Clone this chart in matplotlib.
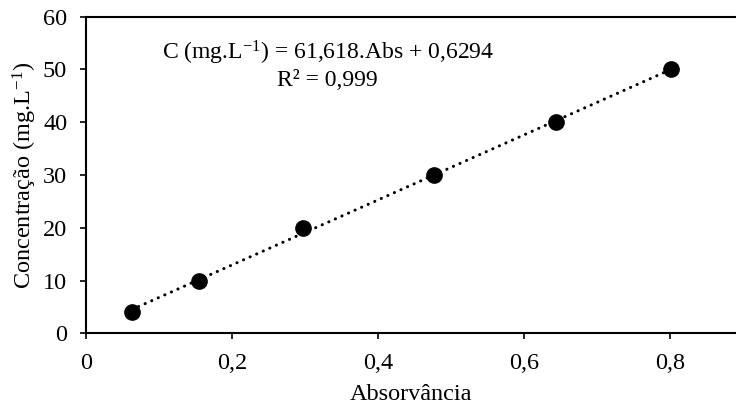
import matplotlib
matplotlib.use("Agg")
import matplotlib.pyplot as plt
import numpy as np

# Data
absorbance = [0.063, 0.155, 0.297, 0.477, 0.644, 0.801]
concentration = [4, 10, 20, 30, 40, 50]
slope = 61.618
intercept = 0.6294
x_ticks = [0, 0.2, 0.4, 0.6, 0.8]
x_tick_labels = ["0", "0,2", "0,4", "0,6", "0,8"]
y_ticks = [0, 10, 20, 30, 40, 50, 60]
equation_text = "C (mg.L$^{-1}$) = 61,618.Abs + 0,6294"
r2_text = "R² = 0,999"

plt.rcParams['font.family'] = ['Liberation Serif', 'DejaVu Serif']
plt.rcParams['mathtext.fontset'] = 'custom'
plt.rcParams['mathtext.rm'] = 'Liberation Serif'
plt.rcParams['mathtext.it'] = 'Liberation Serif'
plt.rcParams['mathtext.default'] = 'rm'

fig = plt.figure(figsize=(7.36, 4.09), dpi=100)
W, H = 736, 409
left, right, top, bottom = 86, 736, 16.7, 333.3
ax = fig.add_axes([left / W, 1 - bottom / H, (right - left) / W, (bottom - top) / H])

# trendline
xl = np.array([min(absorbance), max(absorbance)])
ax.plot(xl, slope * xl + intercept, color='black', linewidth=2.2,
        linestyle=(0, (0.05, 2.3)), dash_capstyle='round', zorder=2)
ax.plot(absorbance, concentration, 'o', color='black', markersize=11, zorder=3)

ax.set_xlim(0, 650 / 730)
ax.set_ylim(0, 60)
ax.set_xticks(x_ticks)
ax.set_xticklabels(x_tick_labels)
ax.set_yticks(y_ticks)
ax.spines['right'].set_visible(False)
for s in ['left', 'bottom', 'top']:
    ax.spines[s].set_linewidth(1.5)
ax.tick_params(direction='out', length=4.5, width=1.2, labelsize=17.5)
ax.tick_params(axis='y', pad=9)
ax.tick_params(axis='x', pad=10)

ax.set_xlabel("Absorvância", fontsize=17.5, labelpad=7)
ax.set_ylabel("Concentração (mg.L$^{-1}$)", fontsize=17.5, labelpad=3)

ax.text(328 / W, 1 - 53 / H, equation_text, transform=fig.transFigure,
        ha='center', va='center', fontsize=17)
ax.text(327 / W, 1 - 80 / H, r2_text, transform=fig.transFigure,
        ha='center', va='center', fontsize=17)

fig.savefig("out.png", dpi=100)
